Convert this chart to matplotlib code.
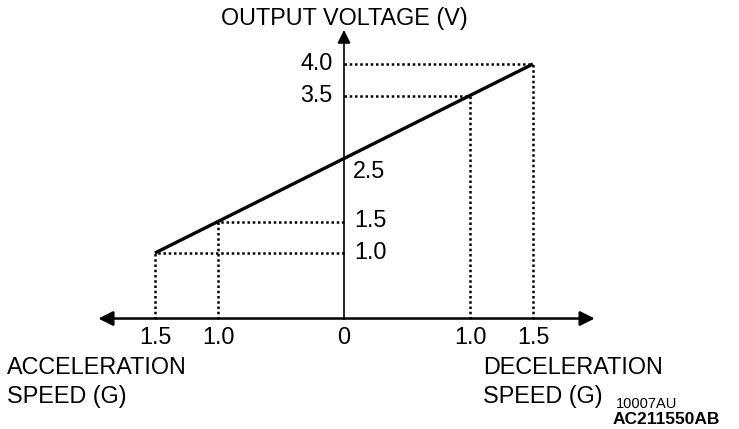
import matplotlib.pyplot as plt

plt.rcParams['font.family'] = ['Liberation Sans', 'DejaVu Sans']

# speed in G (negative = acceleration side), voltage in V
speed = [-1.5, 1.5]
volt = [1.0, 4.0]
marked_speed = [-1.5, -1.0, 1.0, 1.5]
marked_volt = [1.0, 1.5, 3.5, 4.0]
x_ticks = [-1.5, -1.0, 0, 1.0, 1.5]
x_labels = ['1.5', '1.0', '0', '1.0', '1.5']
y_ticks = [4.0, 3.5, 2.5, 1.5, 1.0]
y_labels = ['4.0', '3.5', '2.5', '1.5', '1.0']

base = -0.04  # where the speed axis sits

fig = plt.figure(figsize=(7.39, 4.29), dpi=100)
ax = fig.add_axes([0, 0, 1, 1])
ax.set_xlim(-344 / 126, 395 / 126)
ax.set_ylim(-113 / 63, 316 / 63)
ax.axis('off')

# axes with arrows
arr = dict(arrowstyle='-|>', color='black', lw=1.8, mutation_scale=22,
           shrinkA=0, shrinkB=0)
ax.annotate('', xy=(-1.95, base), xytext=(0, base), arrowprops=arr)
ax.annotate('', xy=(1.99, base), xytext=(0, base), arrowprops=arr)
ax.annotate('', xy=(0, 4.54), xytext=(0, base),
            arrowprops=dict(arr, lw=1.2, mutation_scale=20))

# dotted guide lines
for s, v in zip(marked_speed, marked_volt):
    ax.plot([s, s], [base, v], color='black', lw=1.8, ls=(0, (1, 1.1)))
    ax.plot([0, s], [v, v], color='black', lw=1.8, ls=(0, (1, 1.1)))

# characteristic
ax.plot(speed, volt, color='black', lw=2.4, solid_capstyle='butt')

fs = 16.8
for t, lab in zip(x_ticks, x_labels):
    ax.text(t, -0.34, lab, ha='center', va='center', fontsize=fs)
for t, lab in zip(y_ticks, y_labels):
    if t >= 3.5:
        ax.text(-0.09, t, lab, ha='right', va='center', fontsize=fs)
    elif t == 2.5:
        ax.text(0.07, 2.3, lab, ha='left', va='center', fontsize=fs)
    else:
        ax.text(0.085, t + 0.01, lab, ha='left', va='center', fontsize=fs)

ax.text(0, 4.73, 'OUTPUT VOLTAGE (V)', ha='center', va='center', fontsize=fs)
ax.text(-2.675, -0.81, 'ACCELERATION', ha='left', va='center', fontsize=fs)
ax.text(-2.675, -1.27, 'SPEED (G)', ha='left', va='center', fontsize=fs)
ax.text(1.105, -0.81, 'DECELERATION', ha='left', va='center', fontsize=fs)
ax.text(1.105, -1.27, 'SPEED (G)', ha='left', va='center', fontsize=fs)
ax.text(2.155, -1.40, '10007AU', ha='left', va='center', fontsize=10.5)
ax.text(2.13, -1.65, 'AC211550AB', ha='left', va='center', fontsize=12.5,
        fontweight='bold')

fig.savefig('out.png', dpi=100)
